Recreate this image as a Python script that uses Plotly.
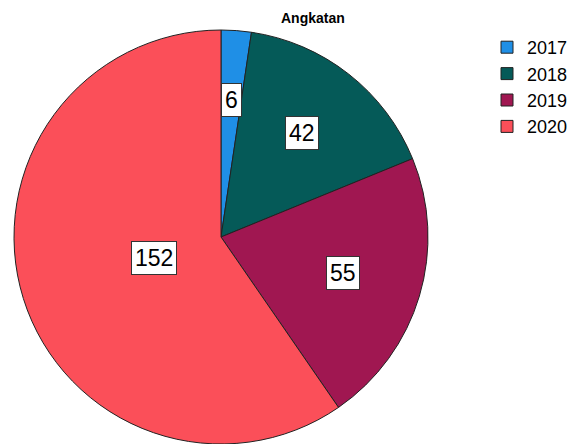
import math
import plotly.graph_objects as go

categories = ["2017", "2018", "2019", "2020"]
values = [6, 42, 55, 152]
colors = ["#1f8fe6", "#055a58", "#a01751", "#fb4f59"]
title_text = "Angkatan"

W, H = 579, 444
cx, cy, R = 221, 237, 207  # pixel layout of the pie

fig = go.Figure()
fig.add_trace(go.Pie(
    labels=categories, values=values, sort=False, direction="clockwise", rotation=0,
    marker=dict(colors=colors, line=dict(color="#222222", width=1)),
    textinfo="none", hoverinfo="label+value",
    domain=dict(x=[(cx - R) / W, (cx + R) / W], y=[1 - (cy + R) / H, 1 - (cy - R) / H]),
))

# label boxes at slice centroids, derived from the data
total = sum(values)
cum = 0
for v in values:
    a0 = cum / total * 2 * math.pi
    cum += v
    a1 = cum / total * 2 * math.pi
    th = a1 - a0
    mid = (a0 + a1) / 2
    d = 2 * R * math.sin(th / 2) / (3 * th / 2)
    px = cx + d * math.sin(mid)
    py = cy - d * math.cos(mid)
    fig.add_annotation(
        x=px / W, y=1 - py / H, xref="paper", yref="paper", text=str(v), showarrow=False,
        xanchor="center", yanchor="middle",
        font=dict(family="Liberation Sans, Arial", size=23, color="black"),
        bgcolor="white", bordercolor="#333333", borderwidth=1, borderpad=3,
    )

fig.add_annotation(
    x=313 / W, y=1 - 18 / H, xref="paper", yref="paper", text="<b>" + title_text + "</b>",
    showarrow=False, xanchor="center", yanchor="middle",
    font=dict(family="Liberation Sans, Arial", size=14, color="black"),
)

fig.update_layout(
    width=W, height=H, margin=dict(l=0, r=0, t=0, b=0, autoexpand=False),
    paper_bgcolor="white", plot_bgcolor="white",
    showlegend=True,
    legend=dict(x=487 / W, y=1 - 29 / H, xanchor="left", yanchor="top",
                font=dict(family="Liberation Sans, Arial", size=18, color="black"),
                tracegroupgap=0, itemwidth=30, bgcolor="rgba(0,0,0,0)"),
)

fig.write_html("out.html", config={"displayModeBar": False},
               post_script="document.body.style.margin='0px';")
